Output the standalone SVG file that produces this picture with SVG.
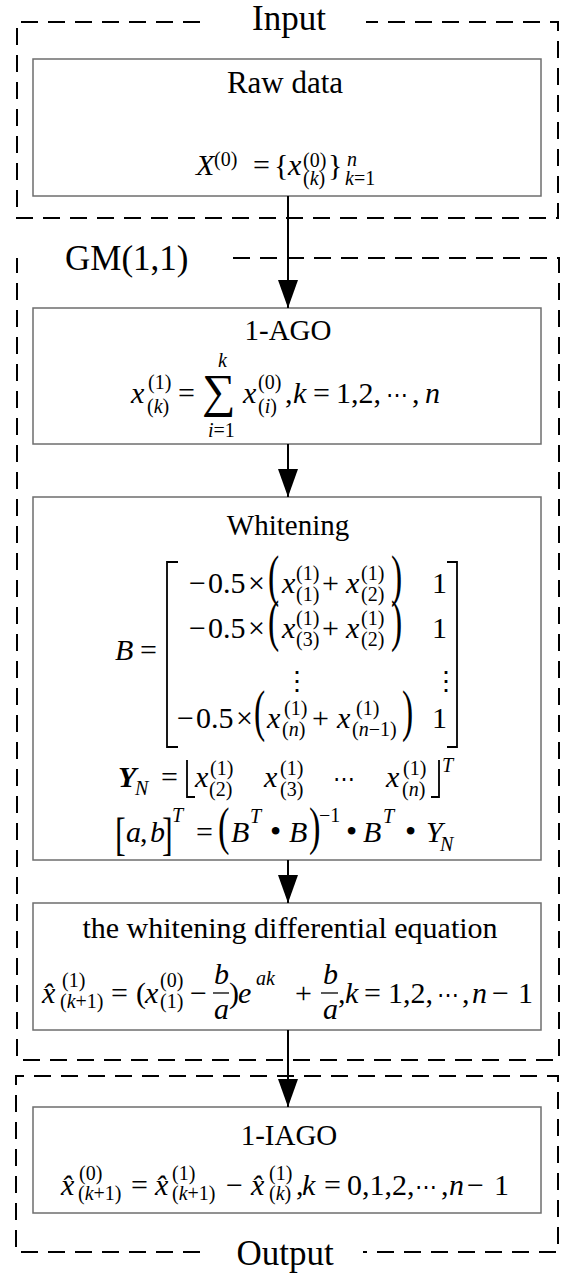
<svg xmlns="http://www.w3.org/2000/svg" width="563" height="1275" viewBox="0 0 563 1275">
<style>
text { font-family: "Liberation Serif", "Times New Roman", "DejaVu Serif", serif; fill: #000; }
.lbl { font-size: 35px; }
.ttl { font-size: 29px; text-anchor: middle; }
.m { font-size: 30px; }
.i { font-style: italic; }
.s { font-size: 20px; }
.b { font-weight: bold; }
.dots { font-family: "DejaVu Serif", "Liberation Serif", serif; font-size: 22px; }
.frame { fill: none; stroke: #000; stroke-width: 2; stroke-dasharray: 17 10; }
.box { fill: #fff; stroke: #6e6e6e; stroke-width: 1.5; }
.conn { stroke: #000; stroke-width: 2; fill: none; }
.br { fill: none; stroke: #000; stroke-width: 1.8; }
.bar { stroke: #000; stroke-width: 1.3; }
</style>
<defs>
<marker id="ah" markerUnits="userSpaceOnUse" markerWidth="28" markerHeight="20" viewBox="0 0 28 20" refX="28" refY="10" orient="auto">
<path d="M0,0 L28,10 L0,20 Z" fill="#000"/>
</marker>
</defs>

<g id="input-frame">
<path class="frame" d="M200,22 H17 V218 H558 V22 H366"/>
<text class="lbl" x="289" y="30" text-anchor="middle">Input</text>
</g>

<g id="gm-frame">
<path class="frame" d="M233,258 H559 V1060 H17 V258"/>
<text class="lbl" x="65" y="270">GM(1,1)</text>
</g>

<g id="output-frame">
<path class="frame" d="M200,1252 H16 V1076 H558 V1252 H363"/>
<text class="lbl" x="285" y="1265" text-anchor="middle">Output</text>
</g>

<g id="raw-data">
<rect class="box" x="33" y="59" width="508" height="137"/>
<text class="ttl" x="285" y="93" style="font-size:31px">Raw data</text>
<text class="m"><tspan class="i" x="196" y="175">X</tspan><tspan class="s" x="214" y="166">(0)</tspan><tspan x="253" y="175">=</tspan><tspan x="274" y="175">{</tspan><tspan class="i" x="288" y="175">x</tspan><tspan class="s" x="303" y="167">(0)</tspan><tspan class="s" x="303" y="185">(<tspan class="i">k</tspan>)</tspan><tspan x="328" y="175">}</tspan><tspan class="s i" x="347" y="166">n</tspan><tspan class="s" x="345" y="185"><tspan class="i">k</tspan>=1</tspan></text>
</g>

<g id="ago">
<rect class="box" x="33" y="308" width="508" height="136"/>
<text class="ttl" x="288" y="340">1-AGO</text>
<text class="m"><tspan class="i" x="131" y="403">x</tspan><tspan class="s" x="148" y="389">(1)</tspan><tspan class="s" x="147" y="413">(<tspan class="i">k</tspan>)</tspan><tspan x="178" y="403">=</tspan><tspan x="202" y="407" style="font-size:47px">∑</tspan><tspan class="s" x="208" y="437"><tspan class="i">i</tspan>=1</tspan><tspan class="i" x="243" y="403">x</tspan><tspan class="s" x="258" y="389">(0)</tspan><tspan class="s" x="258" y="413">(<tspan class="i">i</tspan>)</tspan><tspan x="285" y="403">,</tspan><tspan class="i" x="293" y="403">k</tspan><tspan x="313" y="403">=</tspan><tspan x="336" y="403">1,2,</tspan><tspan x="412" y="403">,</tspan><tspan class="i" x="425" y="403">n</tspan></text>
<text class="m s i" x="218" y="367">k</text>
<text class="dots" x="386" y="402">⋯</text>
</g>

<g id="whitening">
<rect class="box" x="33" y="497" width="508" height="363"/>
<text class="ttl" x="288" y="535">Whitening</text>
<text class="m"><tspan class="i" x="115" y="660">B</tspan><tspan x="140" y="660">=</tspan></text>
<polyline class="br" points="178,562 167,562 167,747 178,747"/>
<polyline class="br" points="447,562 457,562 457,747 447,747"/>
<text class="m"><tspan x="189" y="593">−</tspan><tspan x="208" y="593">0.5</tspan><tspan x="248" y="593">×</tspan><tspan class="i" x="282" y="593">x</tspan><tspan class="s" x="296" y="580">(1)</tspan><tspan class="s" x="296" y="601">(1)</tspan><tspan x="322" y="593">+</tspan><tspan class="i" x="346" y="593">x</tspan><tspan class="s" x="361" y="580">(1)</tspan><tspan class="s" x="361" y="601">(2)</tspan><tspan x="432" y="593">1</tspan></text>
<text class="m" transform="translate(268,595) scale(0.6,1)" style="font-size:56px">(</text>
<text class="m" transform="translate(391,595) scale(0.6,1)" style="font-size:56px">)</text>
<text class="m"><tspan x="189" y="638">−</tspan><tspan x="208" y="638">0.5</tspan><tspan x="248" y="638">×</tspan><tspan class="i" x="282" y="638">x</tspan><tspan class="s" x="296" y="625">(1)</tspan><tspan class="s" x="296" y="646">(3)</tspan><tspan x="322" y="638">+</tspan><tspan class="i" x="346" y="638">x</tspan><tspan class="s" x="361" y="625">(1)</tspan><tspan class="s" x="361" y="646">(2)</tspan><tspan x="432" y="638">1</tspan></text>
<text class="m" transform="translate(268,640) scale(0.6,1)" style="font-size:56px">(</text>
<text class="m" transform="translate(391,640) scale(0.6,1)" style="font-size:56px">)</text>
<text class="dots" style="font-size:26px"><tspan x="284" y="690">⋮</tspan><tspan x="433" y="690">⋮</tspan></text>
<text class="m"><tspan x="177" y="728">−</tspan><tspan x="196" y="728">0.5</tspan><tspan x="236" y="728">×</tspan><tspan class="i" x="267" y="728">x</tspan><tspan class="s" x="284" y="715">(1)</tspan><tspan class="s" x="282" y="736">(<tspan class="i">n</tspan>)</tspan><tspan x="312" y="728">+</tspan><tspan class="i" x="337" y="728">x</tspan><tspan class="s" x="356" y="715">(1)</tspan><tspan class="s" x="352" y="736">(<tspan class="i">n</tspan>−1)</tspan><tspan x="432" y="728">1</tspan></text>
<text class="m" transform="translate(254,730) scale(0.6,1)" style="font-size:56px">(</text>
<text class="m" transform="translate(402,730) scale(0.6,1)" style="font-size:56px">)</text>
<text class="m"><tspan class="i b" x="118" y="787">Y</tspan><tspan class="s i" x="135" y="795">N</tspan><tspan x="161" y="787">=</tspan><tspan class="i" x="195" y="787">x</tspan><tspan class="s" x="210" y="775">(1)</tspan><tspan class="s" x="209" y="796">(2)</tspan><tspan class="i" x="264" y="787">x</tspan><tspan class="s" x="280" y="775">(1)</tspan><tspan class="s" x="280" y="796">(3)</tspan><tspan class="i" x="386" y="787">x</tspan><tspan class="s" x="403" y="775">(1)</tspan><tspan class="s" x="402" y="796">(<tspan class="i">n</tspan>)</tspan><tspan class="s i" x="442" y="772">T</tspan></text>
<text class="dots" x="333" y="786">⋯</text>
<polyline class="br" points="187,760 187,797 195,797"/>
<polyline class="br" points="431,797 439,797 439,760"/>
<text class="m" transform="translate(115,850) scale(0.7,1)" style="font-size:46px">[</text>
<text class="m" transform="translate(162,850) scale(0.7,1)" style="font-size:46px">]</text>
<text class="m"><tspan class="i" x="126" y="842">a</tspan><tspan x="140" y="842">,</tspan><tspan class="i" x="150" y="842">b</tspan><tspan class="s i" x="172" y="822">T</tspan><tspan x="196" y="842">=</tspan><tspan class="i" x="231" y="842">B</tspan><tspan class="s i" x="250" y="823">T</tspan><tspan x="270" y="842" style="font-size:32px">•</tspan><tspan class="i" x="289" y="842">B</tspan><tspan class="s" x="319" y="822">−1</tspan><tspan x="346" y="842" style="font-size:32px">•</tspan><tspan class="i" x="363" y="842">B</tspan><tspan class="s i" x="383" y="823">T</tspan><tspan x="405" y="842" style="font-size:32px">•</tspan><tspan class="i" x="426" y="842">Y</tspan><tspan class="s i" x="440" y="851">N</tspan></text>
<text class="m" transform="translate(218,844) scale(0.65,1)" style="font-size:53px">(</text>
<text class="m" transform="translate(309,844) scale(0.65,1)" style="font-size:53px">)</text>
</g>

<g id="diff-eq">
<rect class="box" x="33" y="903" width="508" height="127"/>
<text class="ttl" x="290" y="938" style="font-size:30px">the whitening differential equation</text>
<text class="m"><tspan class="i" x="42" y="1003">x̂</tspan><tspan class="s" x="62" y="987">(1)</tspan><tspan class="s" x="60" y="1008">(<tspan class="i">k</tspan>+1)</tspan><tspan x="111" y="1003">=</tspan><tspan x="136" y="1003">(</tspan><tspan class="i" x="145" y="1003">x</tspan><tspan class="s" x="160" y="987">(0)</tspan><tspan class="s" x="160" y="1008">(1)</tspan><tspan x="190" y="1003">−</tspan><tspan class="i" x="214" y="984">b</tspan><tspan class="i" x="214" y="1019">a</tspan><tspan x="229" y="1003">)</tspan><tspan class="i" x="238" y="1003">e</tspan><tspan class="s i" x="256" y="985">ak</tspan><tspan x="295" y="1003">+</tspan><tspan class="i" x="323" y="984">b</tspan><tspan class="i" x="323" y="1019">a</tspan><tspan x="338" y="1003">,</tspan><tspan class="i" x="345" y="1003">k</tspan><tspan x="364" y="1003">=</tspan><tspan x="388" y="1003">1,2,</tspan><tspan x="462" y="1003">,</tspan><tspan class="i" x="472" y="1003">n</tspan><tspan x="492" y="1003">−</tspan><tspan x="518" y="1003">1</tspan></text>
<text class="dots" x="437" y="1002">⋯</text>
<line class="bar" x1="213" y1="993" x2="229" y2="993"/>
<line class="bar" x1="321" y1="993" x2="338" y2="993"/>
</g>

<g id="iago">
<rect class="box" x="33" y="1107" width="508" height="106"/>
<text class="ttl" x="289" y="1145">1-IAGO</text>
<text class="m"><tspan class="i" x="61" y="1195">x̂</tspan><tspan class="s" x="79" y="1180">(0)</tspan><tspan class="s" x="78" y="1200">(<tspan class="i">k</tspan>+1)</tspan><tspan x="131" y="1195">=</tspan><tspan class="i" x="155" y="1195">x̂</tspan><tspan class="s" x="172" y="1180">(1)</tspan><tspan class="s" x="172" y="1200">(<tspan class="i">k</tspan>+1)</tspan><tspan x="226" y="1195">−</tspan><tspan class="i" x="251" y="1195">x̂</tspan><tspan class="s" x="269" y="1180">(1)</tspan><tspan class="s" x="269" y="1200">(<tspan class="i">k</tspan>)</tspan><tspan x="296" y="1195">,</tspan><tspan class="i" x="302" y="1195">k</tspan><tspan x="324" y="1195">=</tspan><tspan x="347" y="1195">0,1,2,</tspan><tspan x="441" y="1195">,</tspan><tspan class="i" x="449" y="1195">n</tspan><tspan x="467" y="1195">−</tspan><tspan x="494" y="1195">1</tspan></text>
<text class="dots" x="415" y="1194">⋯</text>
</g>

<g id="connectors">
<line class="conn" x1="288" y1="196" x2="288" y2="308" marker-end="url(#ah)"/>
<line class="conn" x1="288" y1="444" x2="288" y2="497" marker-end="url(#ah)"/>
<line class="conn" x1="288" y1="860" x2="288" y2="903" marker-end="url(#ah)"/>
<line class="conn" x1="288" y1="1030" x2="288" y2="1107" marker-end="url(#ah)"/>
</g>
</svg>
